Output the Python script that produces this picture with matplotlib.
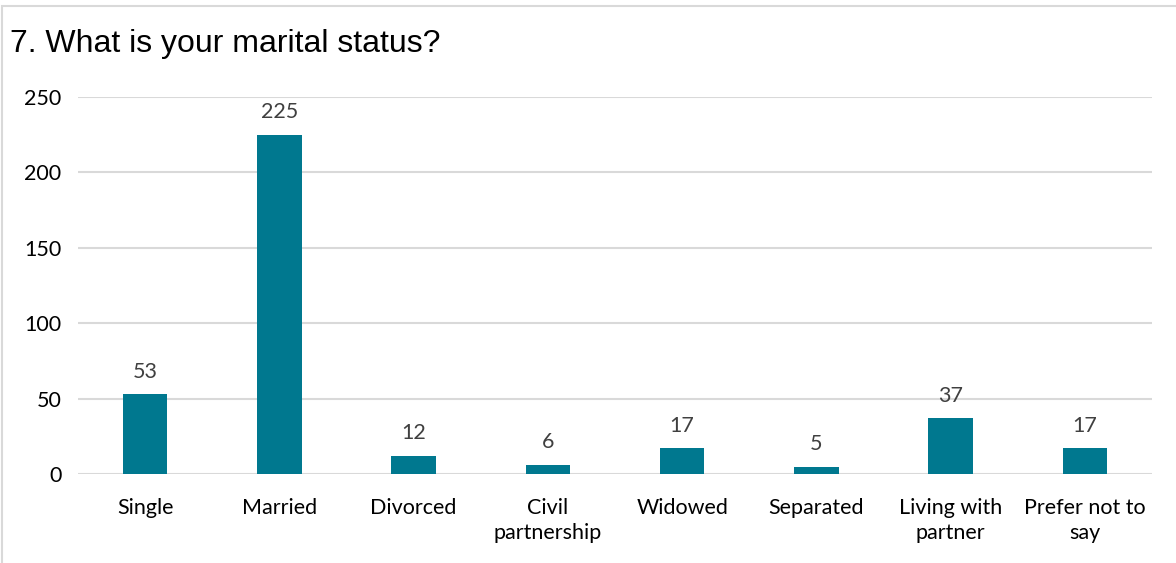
import matplotlib.pyplot as plt
from matplotlib.patches import Rectangle

categories = ["Single", "Married", "Divorced", "Civil\npartnership", "Widowed",
              "Separated", "Living with\npartner", "Prefer not to\nsay"]
counts = [53, 225, 12, 6, 17, 5, 37, 17]
y_ticks = [0, 50, 100, 150, 200, 250]

bar_color = "#00788F"
grid_color = "#D9D9D9"
label_font = ["Lato", "DejaVu Sans"]

fig = plt.figure(figsize=(11.76, 5.63), dpi=100)
ax = fig.add_axes([0.0663, 0.158, 0.9133, 0.6697])

x = range(len(categories))
ax.bar(x, counts, width=0.33, color=bar_color, zorder=3)

for xi, v in zip(x, counts):
    ax.annotate(str(v), (xi, v), xytext=(0, 9), textcoords="offset points",
                ha="center", va="bottom", fontsize=15.5, color="#404040",
                family=label_font)

ax.set_xlim(-0.5, len(categories) - 0.5)
ax.set_ylim(0, 250)
ax.set_yticks(y_ticks)
ax.set_xticks(list(x))
ax.set_xticklabels(categories, fontsize=15.5, family=label_font, linespacing=1.34)
ax.set_yticklabels([str(t) for t in y_ticks], fontsize=15.5, family=label_font)
ax.tick_params(length=0, pad=12, colors="black")
ax.tick_params(axis="x", pad=17)
ax.yaxis.grid(True, color=grid_color, linewidth=1.5, zorder=0)
for s in ax.spines.values():
    s.set_visible(False)

fig.text(0.0085, 0.922, "7. What is your marital status?", fontsize=23,
         family=["Liberation Sans", "DejaVu Sans"], va="center", ha="left")

# chart border
fig.patches.append(Rectangle((2 / 1176, -0.1), 1.1, 1.1 - 6 / 563,
                             transform=fig.transFigure, fill=False,
                             edgecolor=grid_color, linewidth=1.5))

fig.savefig("out.png", dpi=100)
